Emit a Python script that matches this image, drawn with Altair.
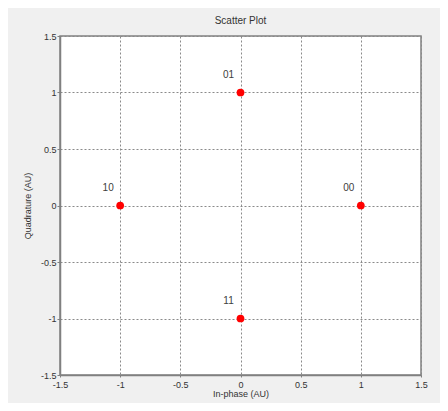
import altair as alt
import pandas as pd

i_vals = [1, 0, -1, 0]
q_vals = [0, 1, 0, -1]
labels = ["00", "01", "10", "11"]
ticks = [-1.5, -1, -0.5, 0, 0.5, 1, 1.5]

df = pd.DataFrame({"I": i_vals, "Q": q_vals, "label": labels})

font = "Liberation Sans"
xs = alt.Scale(domain=[-1.5, 1.5], nice=False, zero=False)
ys = alt.Scale(domain=[-1.5, 1.5], nice=False, zero=False)

axis_common = dict(
    values=ticks,
    grid=True,
    gridDash=[2, 2],
    gridColor="#8a8a8a",
    gridOpacity=1,
    gridWidth=1,
    domainColor="#808080",
    domainWidth=1.5,
    tickColor="#808080",
    labelFont=font,
    labelFontSize=9,
    labelColor="#333333",
    titleFont=font,
    titleFontSize=9,
    titleFontWeight="normal",
    titleColor="#333333",
    labelFlush=False,
    labelExpr="toString(datum.value)",
)

base = alt.Chart(df)

points = base.mark_circle(size=60, color="#ff0000", opacity=1).encode(
    x=alt.X("I:Q", scale=xs, axis=alt.Axis(title="In-phase (AU)", tickSize=2,
                                           labelPadding=3, titlePadding=0, **axis_common)),
    y=alt.Y("Q:Q", scale=ys, axis=alt.Axis(title="Quadrature (AU)", tickSize=3,
                                           labelPadding=1, titlePadding=8, **axis_common)),
)

text = base.mark_text(dx=-12, dy=-18, font=font, fontSize=10, color="#404040").encode(
    x=alt.X("I:Q", scale=xs),
    y=alt.Y("Q:Q", scale=ys),
    text="label:N",
)

chart = (points + text).properties(
    width=361,
    height=339,
    background="#f0f0f0",
    autosize=alt.AutoSizeParams(type="none"),
    padding={"left": 52, "top": 28, "right": 19, "bottom": 28},
    title=alt.TitleParams("Scatter Plot", font=font, fontSize=10, fontWeight="normal", color="#333333", offset=6),
).configure_view(stroke="#808080", strokeWidth=1.5, fill="white")

chart.save("out.html", embed_options={"renderer": "svg", "actions": False})
